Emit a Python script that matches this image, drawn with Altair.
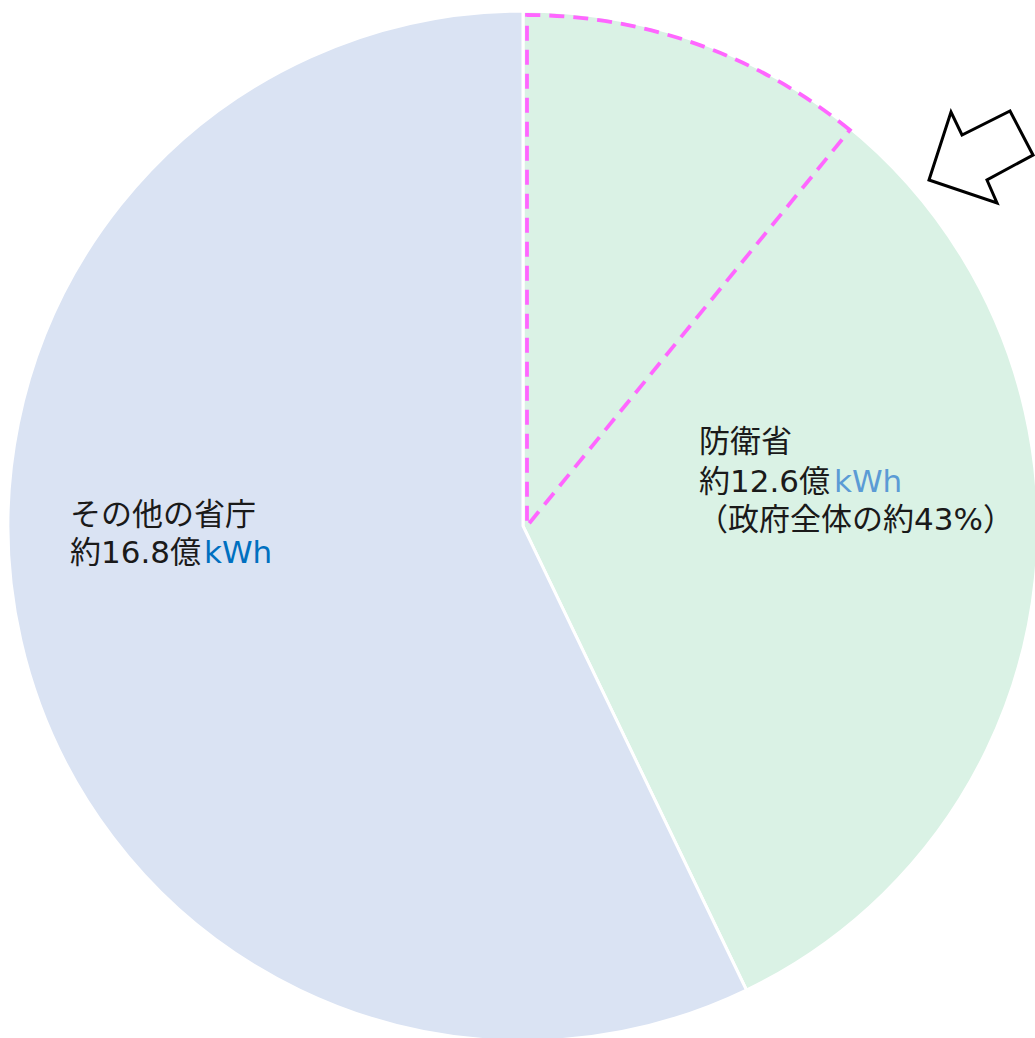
import altair as alt
import pandas as pd

# ---- data ----
categories = ["防衛省", "その他の省庁"]
values = [12.6, 16.8]          # 億kWh
slice_colors = ["#DAF2E5", "#DAE3F3"]

# dashed highlighted portion inside 防衛省 (estimated)
sub_parts = ["highlight", "rest"]
sub_values = [3.2, 26.2]

label_lines_right = ["防衛省", "約12.6億", "（政府全体の約43%）"]
label_lines_left = ["その他の省庁", "約16.8億"]
unit = "kWh"

df = pd.DataFrame({"cat": categories, "value": values, "order": [0, 1]})
df_sub = pd.DataFrame({"part": sub_parts, "value": sub_values, "order": [0, 1]})

FONT = "DejaVu Sans, Noto Sans CJK JP"
CX, CY, R = 523, 526, 515

pie = alt.Chart(df).mark_arc(outerRadius=R, stroke="white", strokeWidth=3).encode(
    theta=alt.Theta("value:Q", stack=True),
    color=alt.Color("cat:N", scale=alt.Scale(domain=categories, range=slice_colors), legend=None),
    order=alt.Order("order:Q"),
    x=alt.value(CX),
    y=alt.value(CY),
)

dashed = alt.Chart(df_sub).mark_arc(
    outerRadius=511, fill="transparent", strokeWidth=3.8, strokeDash=[15, 9]
).encode(
    theta=alt.Theta("value:Q", stack=True),
    stroke=alt.Stroke("part:N", scale=alt.Scale(domain=sub_parts, range=["#FF66FF", "transparent"]), legend=None),
    order=alt.Order("order:Q"),
    x=alt.value(527),
    y=alt.value(526),
)

arrow_path = "M-1,0.442L-0.577,-0.865L-0.365,-0.423L0.558,-0.885L1,-0.038L0.115,0.442L0.308,0.885Z"
arrow = alt.Chart(pd.DataFrame({"a": [0]})).mark_point(
    shape=arrow_path, size=10816, filled=True, fill="white", stroke="black",
    strokeWidth=3, opacity=1, strokeJoin="miter"
).encode(x=alt.value(981), y=alt.value(157))

def txt(text, x, y, color="#1A1A1A"):
    return alt.Chart(pd.DataFrame({"t": [text]})).mark_text(
        align="left", baseline="middle", font=FONT, fontSize=31, color=color
    ).encode(text="t:N", x=alt.value(x), y=alt.value(y))

texts = [
    txt(label_lines_right[0], 699, 443),
    txt(label_lines_right[1], 699, 483),
    txt(unit, 834, 483, "#5B9BD5"),
    txt(label_lines_right[2], 697, 521),
    txt(label_lines_left[0], 70, 516),
    txt(label_lines_left[1], 70, 554),
    txt(unit, 204, 554, "#0070C0"),
]

chart = alt.layer(pie, dashed, arrow, *texts).properties(
    width=1035, height=1038, autosize=alt.AutoSizeParams(type="none"), padding=0,
    background="white"
).configure_view(stroke=None)

chart.save("out.html", embed_options={"renderer": "svg", "actions": False})
